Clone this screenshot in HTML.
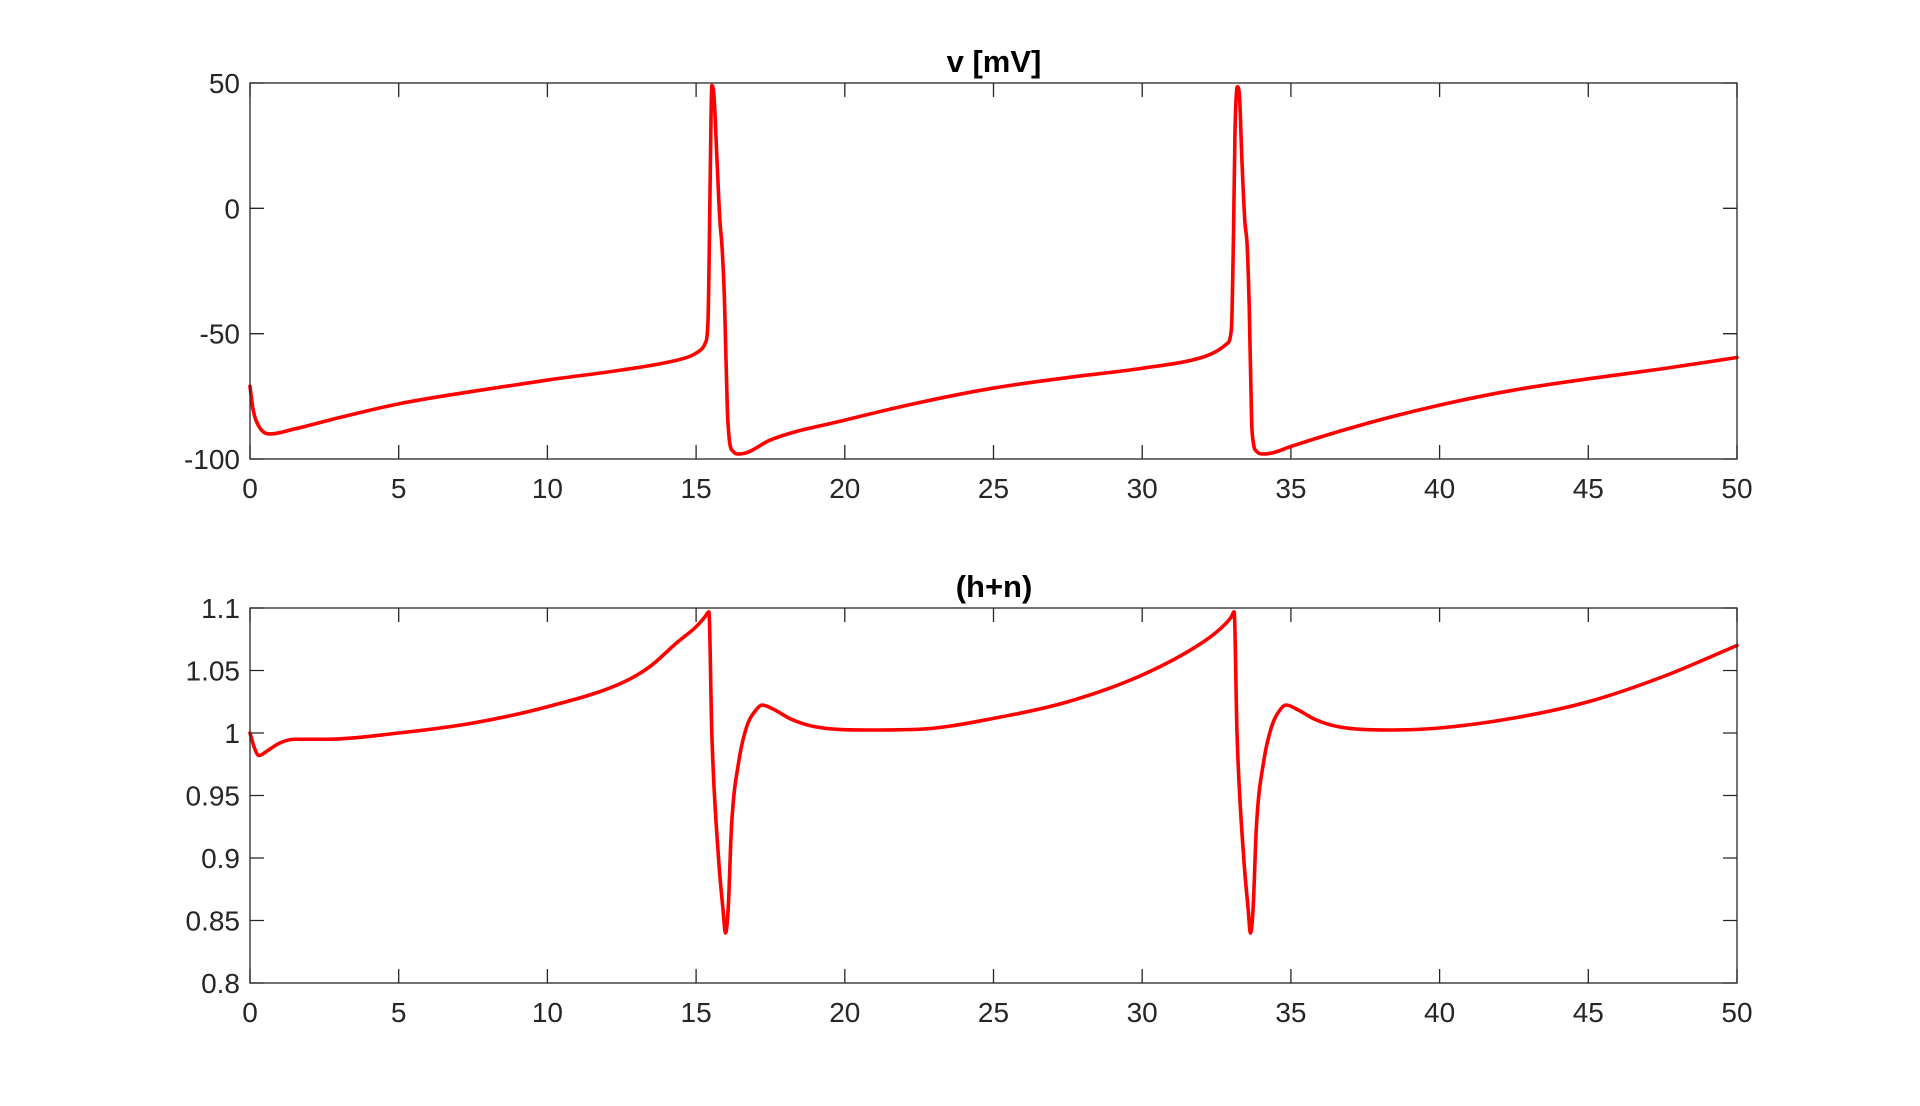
<!DOCTYPE html>
<html><head><meta charset="utf-8"><style>
html,body{margin:0;padding:0;background:#fff}
svg{display:block;font-family:"Liberation Sans",Arial,sans-serif}
</style></head><body>
<svg id="fig" width="1920" height="1106" viewBox="0 0 1920 1106">
<rect width="1920" height="1106" fill="#fff"/>
</svg>
<script>
const xTicks=[0,5,10,15,20,25,30,35,40,45,50];
const vTicks=[50,0,-50,-100];
const hTicks=[1.1,1.05,1,0.95,0.9,0.85,0.8];
const hTickLabels=["1.1","1.05","1","0.95","0.9","0.85","0.8"];
const vTime=[0,0.1,0.3,0.7,1.5,3,5,7.5,10,12.5,14,14.8,15.1,15.3,15.4,15.45,15.5,15.53,15.6,15.7,15.8,15.87,15.95,16.05,16.13,16.25,16.4,16.7,17.5,20,22.5,25,27.5,30,32,32.5,32.85,33.0,33.07,33.12,33.2,33.27,33.35,33.45,33.53,33.6,33.68,33.73,33.85,34.07,34.4,35,37.5,40,42.5,45,47.5,50];
const vValues=[-71,-80,-87,-90,-88,-83.5,-78,-73,-68.5,-64.5,-61.5,-59,-57,-54,-45,-10,35,49,45,20,-5,-15,-35,-80,-93.5,-97,-98,-97.5,-92.4,-84.5,-77.5,-71.7,-67.5,-63.8,-59.5,-57,-54,-48,-10,30,48.5,45,20,-5,-15,-40,-85,-93,-97,-98,-97.5,-95,-86,-78.5,-72.5,-68,-64,-59.5];
const hTime=[0,0.15,0.3,0.6,1.0,1.5,2.5,5,7.5,10,12.5,13.44,14.34,15,15.3,15.43,15.53,15.76,15.9,15.99,16.08,16.19,16.44,16.7,17.0,17.22,17.6,18.2,19,20.79,22.5,25,27.5,30,32,32.7,33.0,33.09,33.19,33.42,33.56,33.64,33.73,33.84,34.09,34.35,34.62,34.84,35.2,35.8,36.6,38.4,40,42.5,45,47.5,50];
const hValues=[1.0,0.988,0.982,0.986,0.992,0.995,0.995,1.0,1.008,1.021,1.04,1.053,1.072,1.085,1.093,1.097,0.998,0.898,0.86,0.84,0.86,0.925,0.978,1.005,1.018,1.0224,1.019,1.011,1.005,1.0024,1.003,1.0117,1.025,1.0464,1.072,1.085,1.093,1.097,0.998,0.898,0.86,0.84,0.86,0.925,0.978,1.005,1.018,1.0224,1.019,1.011,1.005,1.0024,1.004,1.012,1.025,1.045,1.07];

const NS="http://www.w3.org/2000/svg";
const svg=document.getElementById('fig');
function mk(tag,attrs,parent){const e=document.createElementNS(NS,tag);for(const k in attrs)e.setAttribute(k,attrs[k]);(parent||svg).appendChild(e);return e;}
const L=250,R=1737;
function xs(t){return L+(t-0)/(50-0)*(R-L);}
function monoPath(px,py){
  const n=px.length,d=[],m=[];
  for(let i=0;i<n-1;i++)d.push((py[i+1]-py[i])/(px[i+1]-px[i]));
  m[0]=d[0];m[n-1]=d[n-2];
  for(let i=1;i<n-1;i++){m[i]=(d[i-1]*d[i]<=0)?0:(d[i-1]+d[i])/2;}
  for(let i=0;i<n-1;i++){
    if(d[i]===0){m[i]=0;m[i+1]=0;continue;}
    const a=m[i]/d[i],b=m[i+1]/d[i],s=a*a+b*b;
    if(s>9){const t=3/Math.sqrt(s);m[i]=t*a*d[i];m[i+1]=t*b*d[i];}
  }
  let p=`M${px[0].toFixed(1)},${py[0].toFixed(1)}`;
  for(let i=0;i<n-1;i++){
    const h=(px[i+1]-px[i])/3;
    p+=`C${(px[i]+h).toFixed(2)},${(py[i]+m[i]*h).toFixed(2)} ${(px[i+1]-h).toFixed(2)},${(py[i+1]-m[i+1]*h).toFixed(2)} ${px[i+1].toFixed(2)},${py[i+1].toFixed(2)}`;
  }
  return p;
}
function drawPanel(id,top,bot,ymin,ymax,yt,ytl,title,tx,ty,name){
  const ys=v=>bot-(v-ymin)/(ymax-ymin)*(bot-top);
  const g=mk('g',{});
  
  
  const tt=mk('text',{x:994,y:top-11,'text-anchor':'middle','font-size':31,'font-weight':'bold',fill:'#000'},g);
  tt.textContent=title;
  
  
  xTicks.forEach(t=>{
    const x=xs(t);
    const tk=mk('path',{d:`M${x},${top}v14M${x},${bot}v-14`,stroke:'#262626','stroke-width':1.3,fill:'none'},g);
    
    
    const lb=mk('text',{x:x,y:bot+39,'text-anchor':'middle','font-size':28,fill:'#262626'},g);
    lb.textContent=String(t);
    
    
  });
  yt.forEach((v,i)=>{
    const y=ys(v);
    const tk=mk('path',{d:`M${L},${y}h14M${R},${y}h-14`,stroke:'#262626','stroke-width':1.3,fill:'none'},g);
    
    
    const lb=mk('text',{x:240,y:y+10,'text-anchor':'end','font-size':28,fill:'#262626'},g);
    lb.textContent=ytl[i];
    
    
  });
  const px=tx.map(xs),py=ty.map(ys);
  const ln=mk('path',{d:monoPath(px,py),fill:'none',stroke:'#f00','stroke-width':3.6,'stroke-linejoin':'round','stroke-linecap':'round'},g);
  
  
  const box=mk('rect',{x:L,y:top,width:R-L,height:bot-top,fill:'none',stroke:'#262626','stroke-width':1.3},g);
  
  
}
drawPanel('v',83,459,-100,50,vTicks,vTicks.map(String),'v [mV]',vTime,vValues,'voltage');
drawPanel('h',608,983,0.8,1.1,hTicks,hTickLabels,'(h+n)',hTime,hValues,'h-plus-n');
</script>
</body></html>
